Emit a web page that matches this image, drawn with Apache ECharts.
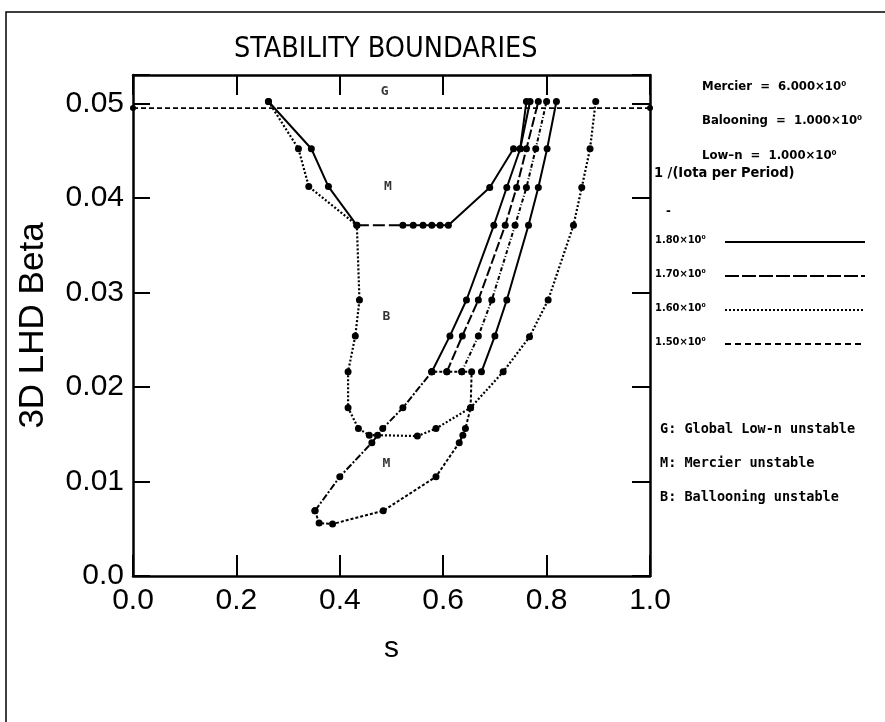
<!DOCTYPE html>
<html>
<head>
<meta charset="utf-8">
<title>Stability Boundaries</title>
<script src="https://cdn.jsdelivr.net/npm/echarts@6/dist/echarts.min.js"></script>
<style>
  html, body { margin: 0; padding: 0; background: #fff; }
  #chart { width: 885px; height: 722px; }
</style>
</head>
<body>
<div id="chart"></div>
<script>
// s, beta pairs
const globalLowN = [[0.0, 0.0495], [1.0, 0.0495]];
const mercierUpperLeft = [[0.262, 0.0502], [0.345, 0.0452], [0.378, 0.0412], [0.433, 0.0371]];
const mercierFlat = [[0.433, 0.0371], [0.522, 0.0371]];
const mercierUpperRight = [[0.522, 0.0371], [0.542, 0.0371], [0.561, 0.0371], [0.578, 0.0371],
  [0.594, 0.0371], [0.61, 0.0371], [0.69, 0.0411], [0.736, 0.0452], [0.749, 0.0452], [0.761, 0.0502]];
const ballooning = [[0.262, 0.0502], [0.32, 0.0452], [0.34, 0.0412], [0.433, 0.0371],
  [0.438, 0.0292], [0.43, 0.0254], [0.416, 0.0216], [0.416, 0.0178], [0.436, 0.0156],
  [0.457, 0.0149], [0.473, 0.0149], [0.55, 0.0148], [0.586, 0.0156], [0.653, 0.0178],
  [0.716, 0.0216], [0.767, 0.0253], [0.803, 0.0292], [0.852, 0.0371], [0.868, 0.0411],
  [0.884, 0.0452], [0.895, 0.0502]];
const mercierLowerLeft = [[0.352, 0.0069], [0.40, 0.0105], [0.462, 0.0141], [0.483, 0.0156],
  [0.522, 0.0178], [0.578, 0.0216]];
const mercierBottom = [[0.352, 0.0069], [0.36, 0.0056], [0.386, 0.0055], [0.484, 0.0069],
  [0.586, 0.0105], [0.631, 0.0141], [0.638, 0.0149], [0.643, 0.0156], [0.653, 0.0178],
  [0.655, 0.0216], [0.636, 0.0216], [0.607, 0.0216], [0.578, 0.0216]];
const iotaA = [[0.578, 0.0216], [0.613, 0.0254], [0.645, 0.0292], [0.698, 0.0371], [0.723, 0.0411], [0.749, 0.0452], [0.768, 0.0502]];
const iotaB = [[0.607, 0.0216], [0.637, 0.0254], [0.668, 0.0292], [0.720, 0.0371], [0.742, 0.0411], [0.761, 0.0452], [0.784, 0.0502]];
const iotaC = [[0.636, 0.0216], [0.668, 0.0254], [0.694, 0.0292], [0.739, 0.0371], [0.761, 0.0411], [0.779, 0.0452], [0.800, 0.0502]];
const iotaD = [[0.674, 0.0216], [0.700, 0.0254], [0.723, 0.0292], [0.765, 0.0371], [0.784, 0.0411], [0.801, 0.0452], [0.819, 0.0502]];
const regionLabels = [[0.487, 0.0512, "G"], [0.493, 0.0412, "M"], [0.49, 0.0274, "B"], [0.49, 0.0119, "M"]];

const paramLines = ["Mercier  =  6.000×10⁰", "Balooning  =  1.000×10⁰", "Low–n  =  1.000×10⁰"];
const iotaLabels = ["1.80×10⁰", "1.70×10⁰", "1.60×10⁰", "1.50×10⁰"];
const iotaStyles = ["solid", [14, 3], [2, 2], [6, 4]];
const regionNotes = ["G: Global Low-n unstable", "M: Mercier unstable", "B: Ballooning unstable"];

const INK = "#000";
const chart = echarts.init(document.getElementById("chart"), null, { renderer: "canvas" });

function boundary(name, data, dash, width) {
  return {
    name, type: "line", data,
    xAxisIndex: 0, yAxisIndex: 0,
    symbol: "circle", symbolSize: 7,
    itemStyle: { color: INK },
    lineStyle: { color: INK, width: width || 2, type: dash },
    animation: false, z: 3,
  };
}

const axisCommon = {
  type: "value",
  axisLine: { show: true, onZero: false, lineStyle: { color: INK, width: 2.5 } },
  axisTick: { show: true, inside: true, lineStyle: { color: INK, width: 2 } },
  splitLine: { show: false },
};
const labelFont = "Liberation Sans";

const smallText = { fontFamily: "DejaVu Sans Condensed", fontWeight: "bold", fontSize: 13, fill: INK };
const monoText = { fontFamily: "DejaVu Sans Mono", fontWeight: "bold", fontSize: 13.5, fill: INK };

const graphics = [
  { type: "polyline", shape: { points: [[6, 722], [6, 12], [885, 12]] }, style: { stroke: INK, lineWidth: 1.5, fill: null } },
  { type: "text", left: 234, top: 35, style: { text: "STABILITY BOUNDARIES", font: "28.5px 'Liberation Sans Narrow', 'DejaVu Sans Condensed', sans-serif", fill: INK } },
  { type: "text", x: 654, y: 166, style: Object.assign({}, smallText, { text: "1 /(Iota per Period)", fontSize: 14.5 }) },
  { type: "text", x: 666, y: 205, style: Object.assign({}, smallText, { text: "-" }) },
];
paramLines.forEach((t, i) => {
  graphics.push({ type: "text", x: 702, y: 80 + i * 34.5, style: Object.assign({}, smallText, { text: t }) });
});
iotaLabels.forEach((t, i) => {
  const y = 242 + i * 34;
  graphics.push({ type: "text", x: 655, y: y - 7, style: Object.assign({}, smallText, { text: t, fontSize: 11 }) });
  graphics.push({ type: "line", shape: { x1: 725, y1: y, x2: 865, y2: y }, style: { stroke: INK, lineWidth: 2, lineDash: iotaStyles[i] === "solid" ? null : iotaStyles[i] } });
});
regionNotes.forEach((t, i) => {
  graphics.push({ type: "text", x: 660, y: 422 + i * 34, style: Object.assign({}, monoText, { text: t }) });
});

chart.setOption({
  backgroundColor: "#fff",
  animation: false,
  grid: { left: 133, right: 235, top: 75, bottom: 146 },
  xAxis: [
    Object.assign({}, axisCommon, {
      position: "bottom", min: 0, max: 1, interval: 0.2,
      axisTick: Object.assign({}, axisCommon.axisTick, { length: 21 }),
      axisLabel: { color: INK, fontSize: 30, fontFamily: labelFont, margin: 10, formatter: (v) => v.toFixed(1) },
      name: "s", nameLocation: "middle", nameGap: 58,
      nameTextStyle: { color: INK, fontSize: 30, fontFamily: labelFont },
    }),
    Object.assign({}, axisCommon, {
      position: "top", min: 0, max: 1, interval: 0.2,
      axisTick: Object.assign({}, axisCommon.axisTick, { length: 20 }),
      axisLabel: { show: false },
    }),
  ],
  yAxis: [
    Object.assign({}, axisCommon, {
      position: "left", min: 0, max: 0.053, interval: 0.01,
      axisTick: Object.assign({}, axisCommon.axisTick, { length: 17 }),
      axisLabel: {
        color: INK, fontSize: 30, fontFamily: labelFont, margin: 9,
        formatter: (v) => (v > 0.0505 ? "" : v === 0 ? "0.0" : v.toFixed(2)),
      },
      name: "3D LHD Beta", nameLocation: "middle", nameGap: 82, nameRotate: 90,
      nameTextStyle: { color: INK, fontSize: 35, fontFamily: labelFont },
    }),
    Object.assign({}, axisCommon, {
      position: "right", min: 0, max: 0.053, interval: 0.01,
      axisTick: Object.assign({}, axisCommon.axisTick, { length: 18 }),
      axisLabel: { show: false },
    }),
  ],
  series: [
    Object.assign(boundary("Global low-n", globalLowN, [5, 3], 1.6), { symbolSize: 6 }),
    boundary("Mercier upper left", mercierUpperLeft, "solid"),
    Object.assign(boundary("Mercier flat", mercierFlat, [12, 4]), { symbol: "none" }),
    boundary("Mercier upper right", mercierUpperRight, "solid"),
    boundary("Ballooning", ballooning, [2, 2], 2.2),
    boundary("Mercier lower", mercierLowerLeft, [7, 2, 2, 2]),
    boundary("Mercier bottom", mercierBottom, [3, 2]),
    boundary(iotaLabels[3], iotaA, "solid"),
    boundary(iotaLabels[2], iotaB, [10, 3]),
    boundary(iotaLabels[1], iotaC, [4, 2, 1, 2]),
    boundary(iotaLabels[0], iotaD, "solid"),
    {
      name: "regions", type: "scatter", data: regionLabels,
      symbolSize: 0, animation: false,
      label: {
        show: true, position: "inside", color: INK, fontSize: 13, fontWeight: "bold",
        fontFamily: "DejaVu Sans Mono", formatter: (p) => p.value[2],
      },
    },
  ],
  graphic: graphics,
});
</script>
</body>
</html>
